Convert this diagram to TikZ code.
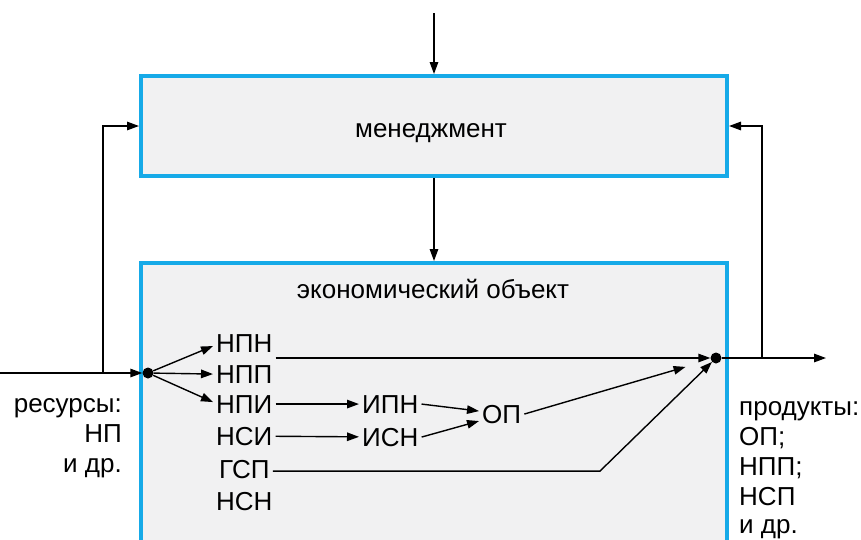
\documentclass[tikz,border=0pt]{standalone}
\usepackage{fontspec}
\setmainfont{Liberation Sans}
\usetikzlibrary{arrows.meta,calc}
\definecolor{frameblue}{RGB}{22,170,232}
\definecolor{panelgray}{RGB}{241,241,242}
\begin{document}
\begin{tikzpicture}[x=1pt,y=-1pt,
  block/.style={draw=frameblue,line width=4pt,fill=panelgray,inner sep=0pt},
  arr/.style={line width=1.4pt,-{Triangle[length=12pt,width=8.5pt]}},
  wire/.style={line width=1.4pt},
  junction/.style={circle,fill=black,inner sep=0pt,minimum size=11pt},
  lbl/.style={font=\fontsize{26}{30}\selectfont,inner sep=3pt},
  txt/.style={font=\fontsize{26}{30}\selectfont,inner sep=0pt}]
\useasboundingbox (0,0) rectangle (861,539);
\clip (0,0) rectangle (861,539);
\fill[white] (0,0) rectangle (861,539);

% the two blocks
\node[block,minimum width=586pt,minimum height=100pt] (mgmt) at (434,126) {};
\node[block,minimum width=586pt,minimum height=320pt] (econ) at (434,423) {};
\node[txt,anchor=base] (mgmtT) at (431,137) {менеджмент};
\node[txt,anchor=base] (econT) at (433,298) {экономический объект};

% junctions
\node[junction] (din) at (148,373) {};
\node[junction] (dout) at (716,358) {};

% external inputs and feedback loops
\coordinate (topIn) at (434,13);
\coordinate (inL) at (0,373);
\coordinate (fbL) at (103,373);
\coordinate (outR) at (826,358);
\coordinate (fbR) at (762,358);
\draw[arr] (topIn) -- (mgmt.north);
\draw[arr] (mgmt.south) -- (econ.north);
\draw[arr] (inL) -- (din);
\draw[arr] (fbL) |- (mgmt.west);
\draw[arr] (dout) -- (outR);
\draw[arr] (fbR) |- (mgmt.east);

% resource list
\node[lbl,anchor=base west] (npn) at (213,352) {НПН};
\node[lbl,anchor=base west] (npp) at (213,383) {НПП};
\node[lbl,anchor=base west] (npi) at (213,413) {НПИ};
\node[lbl,anchor=base west] (nsi) at (213,445) {НСИ};
\node[lbl,anchor=base west] (gsp) at (216,478) {ГСП};
\node[lbl,anchor=base west] (nsn) at (213,510) {НСН};
\node[lbl,anchor=base west] (ipn) at (359,413) {ИПН};
\node[lbl,anchor=base west] (isn) at (359,446) {ИСН};
\node[lbl,anchor=base west] (op) at (479,423) {ОП};

% flows inside the economic object
\draw[arr] (din) -- ($(npn.west)+(0,3)$);
\draw[arr] (din) -- (npp.west);
\draw[arr] (din) -- ($(npi.west)+(0,-2)$);
\draw[arr] (npn.east |- dout) -- (dout);
\draw[arr] (npi) -- (ipn);
\draw[arr] (nsi) -- (isn);
\draw[arr] (ipn.east) -- ($(op.west)+(0,-3)$);
\draw[arr] (isn.east) -- ($(op.west)+(0,7)$);
\draw[arr,shorten >=26pt] (op.east) -- (dout);
\coordinate (bend) at (600,0);
\draw[arr] ($(gsp.east)+(0,2)$) -- ($(gsp.east -| bend)+(0,2)$) -- (dout);

% inputs and outputs
\node[txt,anchor=base east] (res1) at (122,412) {ресурсы:};
\node[txt,anchor=base east] (res2) at (122,442) {НП};
\node[txt,anchor=base east] (res3) at (122,472) {и др.};
\node[txt,anchor=base west] (prod1) at (739,415) {продукты:};
\node[txt,anchor=base west] (prod2) at (739,445) {ОП;};
\node[txt,anchor=base west] (prod3) at (739,475) {НПП;};
\node[txt,anchor=base west] (prod4) at (739,505) {НСП};
\node[txt,anchor=base west] (prod5) at (739,533) {и др.};
\end{tikzpicture}
\end{document}
